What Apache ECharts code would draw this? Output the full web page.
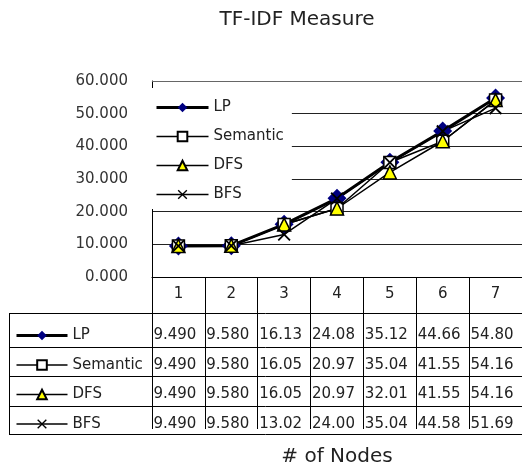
<!DOCTYPE html>
<html>
<head>
<meta charset="utf-8">
<script src="https://cdn.jsdelivr.net/npm/echarts@6/dist/echarts.min.js"></script>
<style>html,body{margin:0;padding:0;background:#fff}#c{width:522px;height:468px}</style>
</head>
<body>
<div id="c"></div>
<script>
var categories = ['1', '2', '3', '4', '5', '6', '7'];
var seriesNames = ['LP', 'Semantic', 'DFS', 'BFS'];
var lpValues = [9.49, 9.58, 16.13, 24.08, 35.12, 44.66, 54.80];
var semanticValues = [9.49, 9.58, 16.05, 20.97, 35.04, 41.55, 54.16];
var dfsValues = [9.49, 9.58, 16.05, 20.97, 32.01, 41.55, 54.16];
var bfsValues = [9.49, 9.58, 13.02, 24.00, 35.04, 44.58, 51.69];
var yTicks = [0, 10, 20, 30, 40, 50, 60];

var FONT = 'DejaVu Sans';
var X_PATH = 'path://M0,1L1,0L5,4L9,0L10,1L6,5L10,9L9,10L5,6L1,10L0,9L4,5Z';

var chart = echarts.init(document.getElementById('c'));

var gridLeft = 152, gridTop = 81, gridW = 371, gridH = 201;
var tableRows = [313, 347, 376, 406, 434];
var rowCenters = [335, 365, 394, 424];

var allValues = [lpValues, semanticValues, dfsValues, bfsValues];

function legendData() {
  return seriesNames.map(function (n, i) {
    return i === 0 ? { name: n, lineStyle: { width: 3 } } : { name: n, lineStyle: { width: 1.5 } };
  });
}

chart.setOption({
  animation: false,
  backgroundColor: '#fff',
  title: {
    text: 'TF-IDF Measure',
    left: 292, top: 5, textAlign: 'center',
    textStyle: { fontFamily: FONT, fontSize: 20, fontWeight: 'normal', color: '#222' }
  },
  grid: { left: gridLeft, top: gridTop, width: gridW, height: gridH },
  legend: [{
    data: legendData(),
    orient: 'vertical',
    left: 151, top: 88,
    backgroundColor: '#fff',
    padding: [12, 8, 7, 4],
    itemWidth: 52, itemHeight: 12, itemGap: 14,
    textStyle: { fontFamily: FONT, fontSize: 15, color: '#222' }
  }, {
    data: legendData(),
    orient: 'vertical',
    left: 11, top: 328,
    padding: [0, 0, 0, 4],
    itemWidth: 51, itemHeight: 12, itemGap: 14.5,
    textStyle: { fontFamily: FONT, fontSize: 15, color: '#222' }
  }],
  xAxis: {
    type: 'category',
    data: categories,
    boundaryGap: true,
    name: '# of Nodes',
    nameLocation: 'middle',
    nameGap: 170,
    nameTextStyle: { fontFamily: FONT, fontSize: 20, color: '#222' },
    axisLine: { lineStyle: { color: '#000', width: 1 } },
    axisTick: { show: true, alignWithLabel: false, length: 152, lineStyle: { color: '#000' } },
    axisLabel: { margin: 10, fontFamily: FONT, fontSize: 15, color: '#222' }
  },
  yAxis: {
    type: 'value',
    min: yTicks[0], max: yTicks[yTicks.length - 1], interval: 10,
    axisLine: { show: true, lineStyle: { color: '#000' } },
    axisTick: { show: false },
    axisLabel: {
      margin: 24, fontFamily: FONT, fontSize: 15, color: '#333',
      formatter: function (v) { return v.toFixed(3); }
    },
    splitLine: { show: true, lineStyle: { color: '#222', width: 1 } }
  },
  series: [{
    name: 'LP', type: 'line', data: lpValues,
    symbol: 'diamond', symbolSize: 19,
    lineStyle: { color: '#000', width: 3 },
    itemStyle: { color: '#000080', borderWidth: 0 }
  }, {
    name: 'Semantic', type: 'line', data: semanticValues,
    symbol: 'rect', symbolSize: 12,
    lineStyle: { color: '#000', width: 1.5 },
    itemStyle: { color: '#fff', borderColor: '#000', borderWidth: 1.5 }
  }, {
    name: 'DFS', type: 'line', data: dfsValues,
    symbol: 'triangle', symbolSize: 13,
    lineStyle: { color: '#000', width: 1.5 },
    itemStyle: { color: '#ffff00', borderColor: '#000', borderWidth: 1.5 }
  }, {
    name: 'BFS', type: 'line', data: bfsValues,
    symbol: X_PATH, symbolSize: 13,
    lineStyle: { color: '#000', width: 1.5 },
    itemStyle: { color: '#000', borderWidth: 0 }
  }]
});

// Plot-area top border and data table (text built from the arrays, placed via axis scale)
var graphics = [];
var topY = Math.round(chart.convertToPixel({ yAxisIndex: 0 }, yTicks[yTicks.length - 1])) + 0.5;
var leftX = chart.convertToPixel({ xAxisIndex: 0 }, 0) - gridW / categories.length / 2;
graphics.push({ type: 'line', z: 1, shape: { x1: leftX, y1: topY, x2: 522, y2: topY }, style: { stroke: '#666', lineWidth: 1 }, silent: true });
tableRows.forEach(function (y) {
  graphics.push({ type: 'line', shape: { x1: 9, y1: y + 0.5, x2: 522, y2: y + 0.5 }, style: { stroke: '#000', lineWidth: 1 }, silent: true });
});
graphics.push({ type: 'line', shape: { x1: 9.5, y1: tableRows[0], x2: 9.5, y2: tableRows[tableRows.length - 1] }, style: { stroke: '#000', lineWidth: 1 }, silent: true });
var bandW = gridW / categories.length;
allValues.forEach(function (vals, r) {
  vals.forEach(function (v, i) {
    var cx = chart.convertToPixel({ xAxisIndex: 0 }, i);
    graphics.push({
      type: 'text', silent: true,
      x: cx - bandW / 2 + 1.5, y: rowCenters[r],
      style: { text: v.toPrecision(4), font: '15px "' + FONT + '"', fill: '#222', textAlign: 'left', textVerticalAlign: 'middle' }
    });
  });
});
chart.setOption({ graphic: graphics });
</script>
</body>
</html>
